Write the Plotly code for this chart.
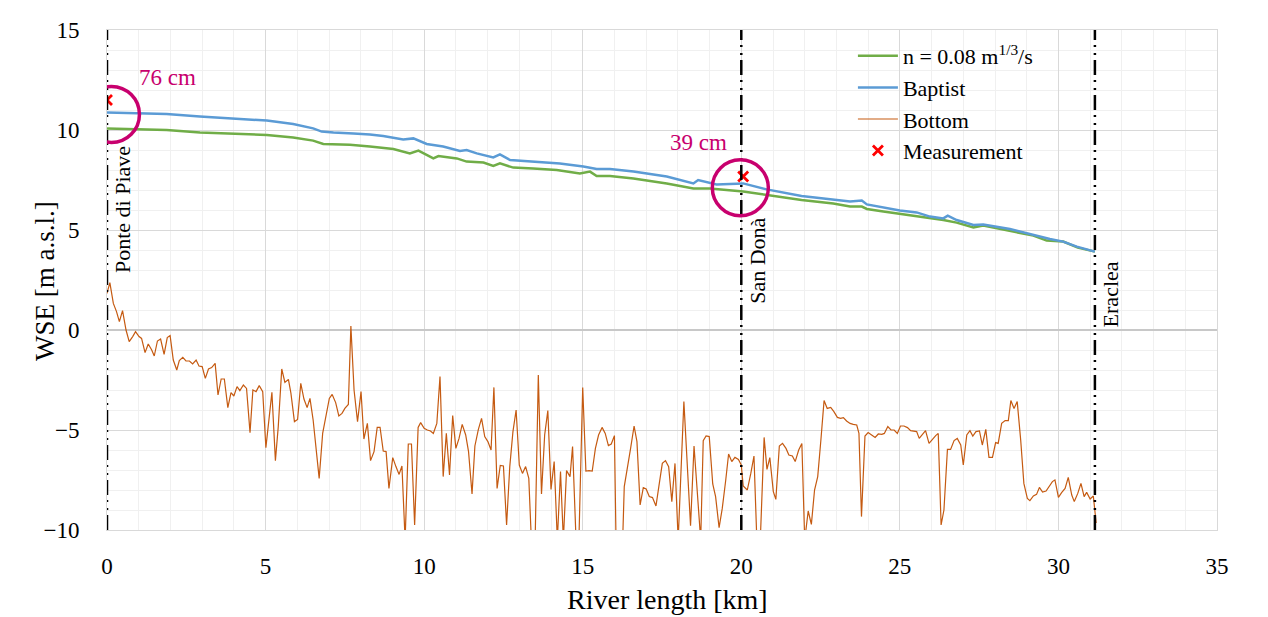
import plotly.graph_objects as go

# ---------------- data ----------------
bottom_km = [0.00, 0.09, 0.20, 0.30, 0.39, 0.49, 0.60, 0.70, 0.81, 0.90, 1.01, 1.09, 1.20, 1.30, 1.41, 1.49,
             1.59, 1.69, 1.80, 1.90, 1.99, 2.09, 2.20, 2.28, 2.39, 2.49, 2.60, 2.70, 2.81, 2.90, 3.00, 3.10,
             3.20, 3.30, 3.41, 3.50, 3.60, 3.70, 3.81, 3.91, 4.00, 4.10, 4.19, 4.30, 4.40, 4.51, 4.60, 4.70,
             4.80, 4.91, 5.01, 5.11, 5.20, 5.31, 5.40, 5.51, 5.61, 5.72, 5.80, 5.91, 6.01, 6.11, 6.21, 6.31,
             6.40, 6.50, 6.69, 6.80, 6.91, 7.01, 7.10, 7.21, 7.31, 7.41, 7.50, 7.61, 7.69, 7.79, 7.90, 8.01,
             8.10, 8.21, 8.31, 8.42, 8.52, 8.61, 8.71, 8.80, 8.89, 9.01, 9.11, 9.21, 9.30, 9.40, 9.50, 9.60,
             9.70, 9.81, 9.89, 10.00, 10.10, 10.20, 10.29, 10.40, 10.50, 10.60, 10.70, 10.80, 10.90, 11.00,
             11.10, 11.20, 11.31, 11.40, 11.51, 11.60, 11.71, 11.81, 11.91, 12.01, 12.11, 12.20, 12.30, 12.40,
             12.50, 12.60, 12.70, 12.80, 12.90, 13.00, 13.10, 13.20, 13.30, 13.38, 13.50, 13.60, 13.70, 13.80,
             13.90, 14.00, 14.10, 14.20, 14.30, 14.39, 14.49, 14.60, 14.68, 14.79, 14.88, 15.00, 15.10, 15.20,
             15.30, 15.40, 15.50, 15.61, 15.71, 15.81, 15.90, 16.00, 16.05, 16.26, 16.31, 16.41, 16.51, 16.62,
             16.71, 16.81, 16.91, 17.00, 17.10, 17.20, 17.31, 17.40, 17.51, 17.61, 17.71, 17.81, 17.91, 18.01,
             18.19, 18.40, 18.51, 18.72, 18.80, 18.89, 18.99, 19.10, 19.19, 19.30, 19.40, 19.51, 19.60, 19.70,
             19.80, 19.91, 20.00, 20.06, 20.19, 20.30, 20.40, 20.49, 20.60, 20.72, 20.81, 20.90, 21.01, 21.09,
             21.20, 21.30, 21.41, 21.50, 21.61, 21.70, 21.81, 21.91, 22.00, 22.11, 22.21, 22.31, 22.41, 22.51,
             22.61, 22.71, 22.82, 22.92, 23.03, 23.13, 23.22, 23.32, 23.43, 23.53, 23.64, 23.71, 23.79, 23.90,
             24.00, 24.11, 24.22, 24.32, 24.43, 24.51, 24.62, 24.72, 24.82, 24.92, 25.02, 25.13, 25.24, 25.34,
             25.45, 25.53, 25.61, 25.72, 25.81, 25.92, 26.02, 26.13, 26.21, 26.30, 26.39, 26.50, 26.60, 26.71,
             26.81, 26.92, 27.00, 27.11, 27.21, 27.30, 27.40, 27.51, 27.60, 27.71, 27.81, 27.92, 28.02, 28.10,
             28.21, 28.32, 28.42, 28.50, 28.60, 28.70, 28.81, 28.91, 29.02, 29.10, 29.21, 29.31, 29.40, 29.50,
             29.61, 29.71, 29.81, 29.89, 30.00, 30.10, 30.21, 30.31, 30.42, 30.50, 30.61, 30.71, 30.81, 30.89,
             31.00, 31.10, 31.16, 31.19]
bottom_z = [1.83, 2.37, 1.33, 0.92, 0.42, 0.97, 0.00, -0.58, -0.33, -0.08, -0.33, -0.42, -1.13, -0.70, -1.00, -1.30,
            -0.55, -0.45, -1.22, -0.38, -0.28, -1.50, -2.00, -1.53, -1.37, -1.55, -1.55, -1.70, -1.50, -1.80, -1.83, -2.42,
            -1.95, -1.88, -1.67, -3.25, -2.45, -2.45, -3.88, -3.13, -3.30, -2.83, -3.03, -2.75, -2.92, -5.13, -3.00, -3.08,
            -2.78, -3.08, -5.88, -4.50, -3.12, -6.53, -4.83, -1.95, -2.62, -2.47, -3.17, -4.58, -4.47, -2.67, -3.45, -3.88,
            -3.42, -4.50, -7.42, -5.17, -4.33, -3.42, -3.22, -3.63, -4.30, -4.17, -3.92, -3.72, 0.20, -3.00, -4.58, -3.08,
            -5.45, -4.67, -6.53, -6.08, -4.87, -4.87, -6.05, -6.08, -7.92, -6.38, -6.83, -7.22, -6.80, -10.50, -5.70, -5.70,
            -9.75, -4.87, -4.63, -4.92, -5.00, -5.05, -5.17, -4.67, -2.33, -7.33, -5.17, -7.25, -4.28, -5.92,
            -5.42, -4.72, -5.25, -6.08, -8.20, -5.80, -4.97, -4.42, -5.33, -5.58, -6.00, -2.87, -7.92, -6.77,
            -6.80, -9.75, -6.83, -5.08, -4.00, -6.75, -7.17, -6.83, -7.42, -10.50, -10.50, -2.25, -8.20, -5.25,
            -4.03, -7.97, -6.58, -10.50, -7.08, -10.50, -7.03, -7.33, -5.83, -10.50, -10.50, -2.87, -7.05, -7.03,
            -7.05, -5.92, -5.25, -4.87, -5.17, -5.78, -5.70, -5.28, -10.50, -10.50, -7.83, -6.75, -5.92, -4.80,
            -5.58, -8.75, -7.88, -7.95, -8.33, -8.38, -8.80, -7.83, -6.67, -6.53, -6.83, -8.58, -6.67, -10.50,
            -3.58, -9.78, -5.80, -10.50, -5.53, -5.30, -5.33, -7.70, -8.33, -9.88, -8.92, -7.50, -6.20, -6.58,
            -6.37, -6.47, -6.75, -7.80, -8.00, -7.17, -6.30, -10.50, -10.50, -5.37, -6.97, -6.38, -8.08, -8.47,
            -5.80, -5.67, -5.92, -6.25, -6.30, -6.58, -6.00, -5.67, -10.50, -9.05, -9.72, -8.00, -7.33, -5.50,
            -3.53, -3.92, -3.87, -4.08, -4.37, -4.42, -4.38, -4.55, -4.67, -4.72, -4.75, -5.17, -9.33, -5.30,
            -5.13, -5.25, -5.37, -5.20, -5.22, -5.17, -4.83, -5.00, -5.00, -5.17, -4.80, -4.80, -4.88, -5.03,
            -5.05, -5.08, -5.42, -5.17, -5.03, -5.67, -5.47, -5.28, -5.17, -9.75, -9.00, -5.97, -5.97, -5.53,
            -5.42, -5.75, -6.75, -5.25, -5.03, -5.30, -5.08, -5.05, -5.75, -4.97, -6.37, -6.37, -5.63, -5.67,
            -4.67, -4.53, -4.53, -3.53, -3.92, -3.58, -5.50, -7.67, -8.42, -8.53, -8.30, -8.22, -7.87, -8.10,
            -8.05, -7.83, -7.58, -7.50, -8.37, -8.13, -7.92, -7.37, -8.25, -8.58, -8.17, -7.67, -8.33, -8.12,
            -8.45, -8.30, -9.17, -9.65]

baptist_km = [0.00, 0.83, 1.88, 2.93, 3.97, 5.04, 5.87, 6.50, 6.77, 7.14, 7.77, 8.29, 8.71, 9.34, 9.66, 10.08,
              10.60, 11.13, 11.34, 11.66, 12.18, 12.39, 12.71, 13.44, 14.28, 15.02, 15.44, 15.86, 16.60, 17.65,
              18.49, 18.64, 19.22, 20.06, 20.80, 21.90, 22.90, 23.43, 23.80, 23.96, 25.00, 25.53, 25.95, 26.37,
              26.51, 26.79, 27.32, 27.63, 28.47, 29.21, 29.73, 30.15, 30.58, 31.15]
baptist_wse = [10.88, 10.83, 10.80, 10.67, 10.58, 10.47, 10.30, 10.08, 9.92, 9.87, 9.83, 9.78, 9.70, 9.53, 9.58, 9.30,
               9.17, 8.95, 9.00, 8.83, 8.63, 8.78, 8.50, 8.42, 8.33, 8.17, 8.05, 8.05, 7.92, 7.67,
               7.33, 7.50, 7.28, 7.33, 7.03, 6.70, 6.50, 6.42, 6.47, 6.28, 5.97, 5.88, 5.67, 5.58,
               5.72, 5.50, 5.25, 5.28, 5.05, 4.75, 4.55, 4.42, 4.17, 3.92]

manning_km = [0.00, 0.83, 1.88, 2.93, 3.97, 5.04, 5.87, 6.50, 6.82, 7.35, 7.66, 8.29, 9.03, 9.55, 9.82, 10.29,
              10.45, 11.03, 11.34, 11.87, 12.18, 12.39, 12.81, 13.44, 14.18, 14.91, 15.23, 15.44, 15.86, 16.60,
              17.65, 18.49, 19.01, 20.06, 20.80, 21.90, 22.90, 23.43, 23.80, 23.96, 24.48, 25.00, 25.50, 25.95,
              26.37, 26.79, 27.32, 27.63, 28.47, 29.21, 29.63, 30.15, 30.61, 31.15]
manning_wse = [10.08, 10.05, 10.00, 9.88, 9.83, 9.75, 9.62, 9.47, 9.30, 9.28, 9.26, 9.17, 9.05, 8.83, 8.97, 8.58,
               8.70, 8.58, 8.42, 8.37, 8.20, 8.33, 8.12, 8.08, 8.00, 7.83, 7.92, 7.70, 7.70, 7.58,
               7.33, 7.08, 7.08, 6.92, 6.75, 6.50, 6.33, 6.17, 6.17, 6.05, 5.92, 5.80, 5.72, 5.58,
               5.50, 5.37, 5.13, 5.22, 4.97, 4.72, 4.47, 4.42, 4.12, 3.92]

meas_km = [0.0, 20.06]
meas_wse = [11.5, 7.68]

station_km = [0.0, 20.0, 31.15]
station_names = ["Ponte di Piave", "San Donà", "Eraclea"]
station_label_base = [2.9, 1.35, 0.2]

note_texts = ["76 cm", "39 cm"]
note_km = [0.95, 17.7]
note_y = [12.65, 9.4]
circle_km = [0.14, 19.97]
circle_wse = [10.78, 7.11]

x_title = "River length [km]"
y_title = "WSE [m a.s.l.]"

# ---------------- style ----------------
FONT = "Liberation Serif"
MAG = "#C8006E"

fig = go.Figure()
fig.add_trace(go.Scatter(x=manning_km, y=manning_wse, mode="lines", name="n = 0.08 m<sup>1/3</sup>/s",
                         line=dict(color="#70AD47", width=2.5)))
fig.add_trace(go.Scatter(x=baptist_km, y=baptist_wse, mode="lines", name="Baptist",
                         line=dict(color="#5B9BD5", width=2.5)))
fig.add_trace(go.Scatter(x=bottom_km, y=bottom_z, mode="lines", name="Bottom",
                         line=dict(color="#C55A11", width=1.2)))
fig.add_trace(go.Scatter(x=meas_km, y=meas_wse, mode="markers", name="Measurement",
                         marker=dict(symbol="x-thin", size=10, color="#FF0000",
                                     line=dict(color="#FF0000", width=2.8))))

shapes = []
for xk in station_km:
    shapes.append(dict(type="line", xref="x", yref="paper", x0=xk, x1=xk, y0=0, y1=1,
                       line=dict(color="black", width=2.5, dash="15px,5px,2px,6px,2px,5px"), layer="above"))
rx, ry = 28 / 31.714, 28 / 20
for cx, cy in zip(circle_km, circle_wse):
    shapes.append(dict(type="circle", xref="x", yref="y", x0=cx - rx, x1=cx + rx, y0=cy - ry, y1=cy + ry,
                       line=dict(color=MAG, width=3.5), layer="above"))

annotations = []
for xk, name, yb in zip(station_km, station_names, station_label_base):
    annotations.append(dict(x=xk, y=yb, xref="x", yref="y", text=name, textangle=-90, showarrow=False,
                            xanchor="left", yanchor="bottom", xshift=1, yshift=-3,
                            font=dict(family=FONT, size=22, color="black")))
for t, xk, yk in zip(note_texts, note_km, note_y):
    annotations.append(dict(x=xk, y=yk, xref="x", yref="y", text=t, showarrow=False,
                            xanchor="left", yanchor="middle", font=dict(family=FONT, size=23, color=MAG)))
annotations.append(dict(x=0.505, y=0, xref="paper", yref="paper", text=x_title, showarrow=False,
                        xanchor="center", yanchor="middle", yshift=-69,
                        font=dict(family=FONT, size=28, color="black")))
annotations.append(dict(x=0, y=0.498, xref="paper", yref="paper", text=y_title, showarrow=False,
                        textangle=-90, xanchor="center", yanchor="middle", xshift=-62,
                        font=dict(family=FONT, size=27, color="black")))

fig.update_layout(
    width=1260, height=609,
    margin=dict(l=99, r=51, t=22, b=87, autoexpand=False),
    paper_bgcolor="white", plot_bgcolor="white",
    font=dict(family=FONT, size=22, color="black"),
    shapes=shapes, annotations=annotations,
    legend=dict(x=0.672, y=0.99, xanchor="left", yanchor="top", bgcolor="rgba(0,0,0,0)",
                font=dict(family=FONT, size=22), itemwidth=40, tracegroupgap=0),
    showlegend=True,
)
fig.update_xaxes(range=[0, 35], dtick=5, tick0=0, showgrid=True, gridcolor="#d9d9d9", gridwidth=1.3,
                 minor=dict(dtick=1, showgrid=True, gridcolor="#f0f0f0", gridwidth=1.3),
                 zeroline=False, showline=True, linecolor="#d9d9d9", mirror=True, automargin=False,
                 ticks="", ticklabelstandoff=15, tickfont=dict(family=FONT, size=23))
fig.update_yaxes(range=[-10, 15], dtick=5, tick0=0, showgrid=True, gridcolor="#d9d9d9", gridwidth=1.3,
                 minor=dict(dtick=1, showgrid=True, gridcolor="#f0f0f0", gridwidth=1.3),
                 zeroline=True, zerolinecolor="#c8c8c8", zerolinewidth=1.5,
                 showline=True, linecolor="#d9d9d9", mirror=True, automargin=False,
                 ticks="", ticklabelstandoff=22, tickfont=dict(family=FONT, size=23))

fig.write_html("out.html")
